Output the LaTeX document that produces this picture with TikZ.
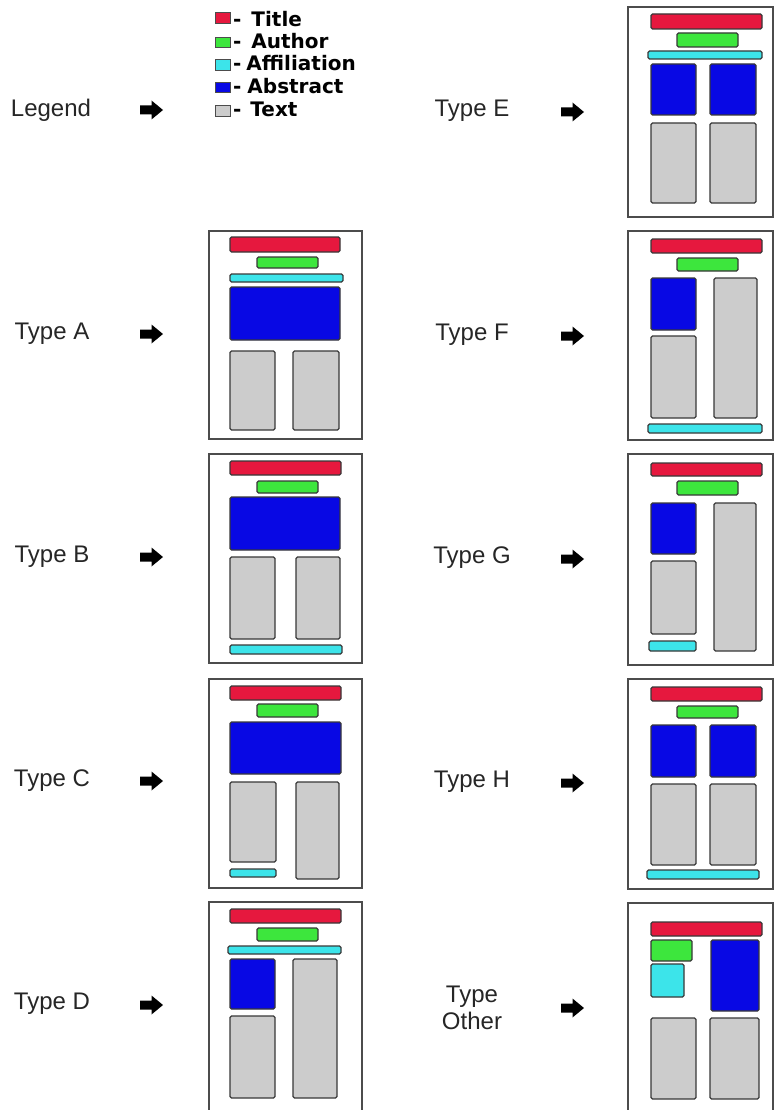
\documentclass[tikz,border=0pt]{standalone}
\usepackage{fontspec}
\setmainfont{Liberation Sans}
\newfontfamily\legfont{DejaVu Sans}
\definecolor{ttlred}{HTML}{E6183E}
\definecolor{authgreen}{HTML}{3DE63D}
\definecolor{affcyan}{HTML}{3CE4EA}
\definecolor{absblue}{HTML}{0808E4}
\definecolor{txtgray}{HTML}{CCCCCC}
\tikzset{
  frame/.style={draw=black!70, line width=1.6pt, fill=white},
  blk/.style={draw=black!78, line width=1.2pt, rounded corners=1.5pt},
  ttl/.style={blk, fill=ttlred},
  aut/.style={blk, fill=authgreen},
  aff/.style={blk, fill=affcyan},
  abs/.style={blk, fill=absblue},
  txt/.style={blk, fill=txtgray},
  lab/.style={font=\fontsize{24}{27}\selectfont, text=black!85, align=center, inner sep=0pt},
  leg/.style={font=\legfont\bfseries\fontsize{20}{21}\selectfont, anchor=base west, inner sep=0pt},
  legsq/.style={line width=0.8pt, draw=black!70},
  arrowfill/.style={fill=black}
}
\newcommand\rb[5]{\draw[#1] (#2,#3) rectangle (#4,#5);}
% block arrow centred on a named coordinate
\newcommand\blockarrow[1]{%
  \fill[arrowfill] ([shift={(-11,-4.5)}]#1) -- ([shift={(0.5,-4.5)}]#1) -- ([shift={(0.5,-9.5)}]#1)
    -- ([shift={(12,0)}]#1) -- ([shift={(0.5,9.5)}]#1) -- ([shift={(0.5,4.5)}]#1)
    -- ([shift={(-11,4.5)}]#1) -- cycle;}
\begin{document}
\begin{tikzpicture}[x=1pt,y=-1pt]
\useasboundingbox[fill=white] (0,0) rectangle (774,1110);
% ---------- labels and arrows ----------
\node[lab] (lLeg) at (51,110) {Legend};
\node[lab] (lA) at (52,334) {Type A};
\node[lab] (lB) at (52,557) {Type B};
\node[lab] (lC) at (52,781) {Type C};
\node[lab] (lD) at (52,1004) {Type D};
\node[lab] (lE) at (472,111) {Type E};
\node[lab] (lF) at (472,335) {Type F};
\node[lab] (lG) at (472,558) {Type G};
\node[lab] (lH) at (472,782) {Type H};
\node[lab] (lO) at (472,1008) {Type\\Other};
\coordinate (aLeg) at (151,110);
\coordinate (aA) at (151,334);
\coordinate (aB) at (151,557);
\coordinate (aC) at (151,781);
\coordinate (aD) at (151,1005);
\coordinate (aE) at (572,112);
\coordinate (aF) at (572,336);
\coordinate (aG) at (572,559);
\coordinate (aH) at (572,783);
\coordinate (aO) at (572,1008);
\blockarrow{aLeg}\blockarrow{aA}\blockarrow{aB}\blockarrow{aC}\blockarrow{aD}
\blockarrow{aE}\blockarrow{aF}\blockarrow{aG}\blockarrow{aH}\blockarrow{aO}
% ---------- legend ----------
\rb{legsq,fill=ttlred}{215}{12}{230}{23}
\rb{legsq,fill=authgreen}{215}{37}{230}{47}
\rb{legsq,fill=affcyan}{215}{59}{230}{70}
\rb{legsq,fill=absblue}{215}{82}{230}{92}
\rb{legsq,fill=txtgray}{215}{105}{230}{116}
\node[leg] (gT) at (233,27) {-\hspace{0.15em} Title};
\node[leg] (gAu) at (233,49) {-\hspace{0.15em} Author};
\node[leg] (gAf) at (233,71) {-\hspace{-0.1em} Affiliation};
\node[leg] (gAb) at (233,94) {-\hspace{-0.05em} Abstract};
\node[leg] (gTx) at (233,117) {-\hspace{0.1em} Text};
% ---------- Type A ----------
\rb{frame}{209}{231}{362}{439}
\rb{ttl}{230}{237}{340}{252}
\rb{aut}{257}{257}{318}{268}
\rb{aff}{230}{274}{343}{282}
\rb{abs}{230}{287}{340}{340}
\rb{txt}{230}{351}{275}{430}
\rb{txt}{293}{351}{339}{430}
% ---------- Type B ----------
\rb{frame}{209}{454}{362}{663}
\rb{ttl}{230}{461}{341}{475}
\rb{aut}{257}{481}{318}{493}
\rb{abs}{230}{497}{340}{550}
\rb{txt}{230}{557}{275}{639}
\rb{txt}{296}{557}{340}{639}
\rb{aff}{230}{645}{342}{654}
% ---------- Type C ----------
\rb{frame}{209}{679}{362}{888}
\rb{ttl}{230}{686}{341}{700}
\rb{aut}{257}{704}{318}{717}
\rb{abs}{230}{722}{341}{774}
\rb{txt}{230}{782}{276}{862}
\rb{txt}{296}{782}{339}{879}
\rb{aff}{230}{869}{276}{877}
% ---------- Type D ----------
\draw[frame] (209,1116) -- (209,902) -- (362,902) -- (362,1116);
\rb{ttl}{230}{909}{341}{923}
\rb{aut}{257}{928}{318}{941}
\rb{aff}{228}{946}{341}{954}
\rb{abs}{230}{959}{275}{1009}
\rb{txt}{230}{1016}{275}{1098}
\rb{txt}{293}{959}{337}{1098}
% ---------- Type E ----------
\rb{frame}{628}{7}{773}{217}
\rb{ttl}{651}{14}{762}{29}
\rb{aut}{677}{33}{738}{47}
\rb{aff}{648}{51}{762}{59}
\rb{abs}{651}{64}{696}{115}
\rb{abs}{710}{64}{756}{115}
\rb{txt}{651}{123}{696}{203}
\rb{txt}{710}{123}{756}{203}
% ---------- Type F ----------
\rb{frame}{628}{231}{773}{440}
\rb{ttl}{651}{239}{762}{253}
\rb{aut}{677}{258}{738}{271}
\rb{abs}{651}{278}{696}{330}
\rb{txt}{651}{336}{696}{418}
\rb{txt}{714}{278}{757}{418}
\rb{aff}{648}{424}{762}{433}
% ---------- Type G ----------
\rb{frame}{628}{454}{773}{665}
\rb{ttl}{651}{463}{762}{476}
\rb{aut}{677}{481}{738}{495}
\rb{abs}{651}{503}{696}{554}
\rb{txt}{651}{561}{696}{634}
\rb{txt}{714}{503}{756}{651}
\rb{aff}{649}{641}{696}{651}
% ---------- Type H ----------
\rb{frame}{628}{679}{773}{889}
\rb{ttl}{651}{687}{762}{701}
\rb{aut}{677}{706}{738}{718}
\rb{abs}{651}{725}{696}{777}
\rb{abs}{710}{725}{756}{777}
\rb{txt}{651}{784}{696}{865}
\rb{txt}{710}{784}{756}{865}
\rb{aff}{647}{870}{759}{879}
% ---------- Type Other ----------
\draw[frame] (628,1116) -- (628,903) -- (773,903) -- (773,1116);
\rb{ttl}{651}{922}{762}{936}
\rb{aut}{651}{940}{692}{961}
\rb{aff}{651}{964}{684}{997}
\rb{abs}{711}{940}{759}{1011}
\rb{txt}{651}{1018}{696}{1099}
\rb{txt}{710}{1018}{759}{1099}
\end{tikzpicture}
\end{document}
